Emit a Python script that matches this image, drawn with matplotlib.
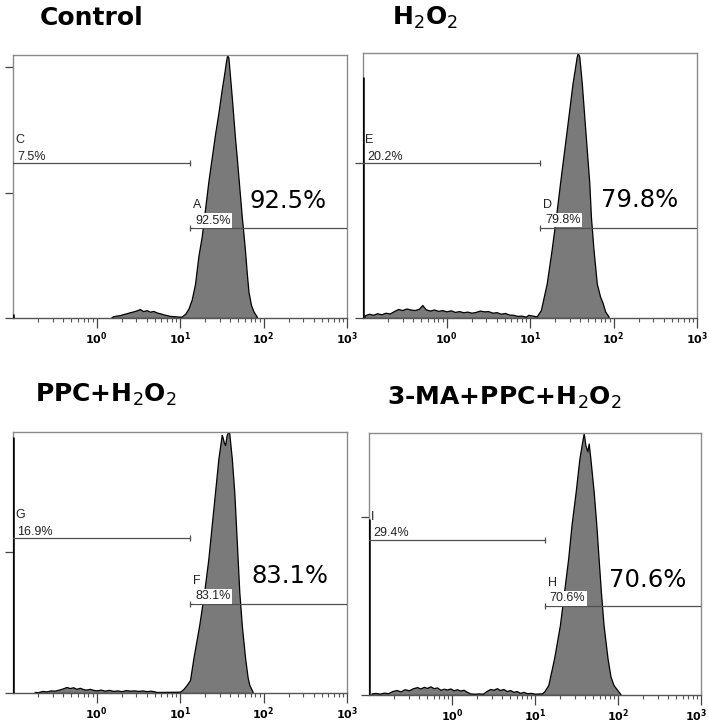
import numpy as np
import matplotlib
matplotlib.use('Agg')
import matplotlib.pyplot as plt
import matplotlib.transforms as mtransforms
from matplotlib.ticker import FixedLocator, LogLocator, NullFormatter

plt.rcParams['mathtext.fontset'] = 'custom'
plt.rcParams['mathtext.rm'] = 'DejaVu Sans'
plt.rcParams['mathtext.bf'] = 'DejaVu Sans:bold'
plt.rcParams['mathtext.it'] = 'DejaVu Sans:italic'

# ---------------- data ----------------
titles = ["Control", r"H$_2$O$_2$", r"PPC+H$_2$O$_2$", r"3-MA+PPC+H$_2$O$_2$"]
big_pct = ["92.5%", "79.8%", "83.1%", "70.6%"]
left_gate_letters = ["C", "E", "G", "I"]
left_gate_pct = ["7.5%", "20.2%", "16.9%", "29.4%"]
right_gate_letters = ["A", "D", "F", "H"]
right_gate_pct = ["92.5%", "79.8%", "83.1%", "70.6%"]
xtick_values = [1, 10, 100, 1000]
xtick_labels = [r"$\mathbf{10^{0}}$", r"$\mathbf{10^{1}}$", r"$\mathbf{10^{2}}$", r"$\mathbf{10^{3}}$"]
y_ticks = [[0, 47.5, 95.4], [0, 58.5], [0, 54], [0, 68]]

# gate boundary (log10 of fluorescence) and gate heights (% of axis height)
gate_split_log = [1.12, 1.12, 1.12, 1.116]
left_gate_y = [58.9, 58.5, 59.3, 59.2]
right_gate_y = [34.1, 34.0, 34.1, 34.0]

# events piled at the left edge of the scale
edge_spike = [1.5, 91, 98, 67]

# low-intensity (debris) part of each histogram: log10 channel, height
low_x_control = [0.18, 0.20, 0.24, 0.28, 0.32, 0.36, 0.40, 0.44, 0.48, 0.52, 0.56,
                 0.60, 0.64, 0.68, 0.72, 0.76, 0.80, 0.84, 0.88, 0.92, 0.96, 1.00]
low_h_control = [0.3, 0.7, 0.9, 1.1, 1.5, 1.8, 2.2, 2.5, 2.9, 3.4, 2.6,
                 3.0, 2.4, 2.7, 2.1, 1.8, 1.4, 1.1, 0.8, 0.7, 0.6, 0.5]

low_x_h2o2 = [-0.98, -0.93, -0.88, -0.83, -0.78, -0.73, -0.68, -0.63, -0.58, -0.53, -0.48,
              -0.43, -0.38, -0.33, -0.29, -0.25, -0.20, -0.15, -0.10, -0.05, 0.00, 0.05,
              0.10, 0.15, 0.20, 0.25, 0.30, 0.35, 0.40, 0.45, 0.50, 0.55, 0.60, 0.65,
              0.70, 0.75, 0.80, 0.85, 0.90, 0.95, 0.98]
low_h_h2o2 = [1.0, 1.6, 1.2, 1.8, 1.4, 2.0, 1.7, 2.6, 3.4, 3.0, 3.6,
              3.2, 3.0, 3.5, 4.9, 3.3, 2.8, 3.2, 2.7, 3.0, 2.5, 2.9,
              2.3, 2.6, 2.2, 2.4, 2.0, 2.3, 2.8, 2.5, 2.6, 2.0, 2.2, 1.6,
              1.9, 1.3, 1.2, 0.8, 0.9, 0.5, 1.2]

low_x_ppc = [-0.74, -0.70, -0.65, -0.60, -0.55, -0.50, -0.45, -0.40, -0.36, -0.32, -0.28,
             -0.24, -0.20, -0.16, -0.12, -0.08, -0.04, 0.00, 0.05, 0.10, 0.15, 0.20,
             0.25, 0.30, 0.35, 0.40, 0.45, 0.50, 0.55, 0.60, 0.65, 0.70, 0.72]
low_h_ppc = [0.4, 0.3, 0.8, 0.6, 1.0, 0.9, 1.3, 1.8, 2.3, 1.9, 2.2,
             1.6, 2.0, 1.5, 1.3, 1.6, 1.2, 1.0, 1.3, 0.9, 1.2, 0.8,
             1.0, 0.7, 1.1, 0.9, 1.0, 0.8, 1.0, 0.7, 0.9, 0.6, 0.4]

low_x_3ma = [-0.97, -0.92, -0.87, -0.82, -0.77, -0.72, -0.67, -0.62, -0.57, -0.52, -0.47,
             -0.42, -0.38, -0.34, -0.30, -0.26, -0.22, -0.18, -0.14, -0.10, -0.06, -0.02,
             0.02, 0.06, 0.10, 0.14, 0.18, 0.22, 0.27, 0.32, 0.37, 0.42, 0.46, 0.50,
             0.54, 0.58, 0.62, 0.66, 0.70, 0.74, 0.78, 0.82, 0.86, 0.90, 0.95, 1.00, 1.05]
low_h_3ma = [0.6, 0.8, 0.5, 0.9, 0.7, 1.5, 1.9, 1.4, 2.2, 1.8, 2.6,
             3.0, 2.5, 3.1, 2.7, 3.3, 2.6, 2.9, 2.0, 2.4, 2.1, 2.5,
             1.8, 2.2, 1.7, 2.0, 1.2, 0.6, 0.5, 0.6, 0.5, 1.6, 2.3, 2.0,
             2.6, 1.9, 2.3, 1.5, 1.9, 1.2, 1.5, 0.8, 1.2, 0.7, 0.8, 0.5, 0.6]

# main peak: log10 channel, height
peak_x_control = [1.02, 1.06, 1.10, 1.14, 1.18, 1.22, 1.26, 1.30, 1.34, 1.38, 1.42, 1.46,
                  1.50, 1.53, 1.55, 1.565, 1.58, 1.60, 1.62, 1.64, 1.66, 1.68, 1.70, 1.72,
                  1.74, 1.76, 1.78, 1.80, 1.82, 1.85, 1.88, 1.92]
peak_h_control = [0.6, 1.5, 3.5, 7, 13, 23.5, 31, 41.5, 52, 61, 70, 78,
                  87, 93, 97.5, 100, 99, 91.5, 84, 76, 68, 61, 53.5, 46,
                  38.5, 32, 25, 17, 10, 5, 2.5, 0.5]

peak_x_h2o2 = [1.08, 1.13, 1.20, 1.26, 1.31, 1.36, 1.41, 1.46, 1.51, 1.56, 1.572, 1.59,
               1.62, 1.65, 1.68, 1.71, 1.73, 1.76, 1.80, 1.84, 1.87, 1.90, 1.94]
peak_h_h2o2 = [0.6, 3, 13, 26, 38, 51, 63.5, 76, 88.7, 98.7, 100, 98.7,
               88.7, 76, 63.5, 51, 38, 26, 13, 8, 5.7, 2.5, 0.6]

peak_x_ppc = [1.00, 1.04, 1.08, 1.12, 1.16, 1.23, 1.29, 1.34, 1.38, 1.42, 1.46, 1.50,
              1.51, 1.525, 1.54, 1.56, 1.578, 1.59, 1.62, 1.65, 1.67, 1.69, 1.71, 1.74,
              1.78, 1.81, 1.83, 1.87]
peak_h_ppc = [0.5, 1.5, 3.1, 5, 13.3, 26, 38.8, 51.6, 64.4, 77.1, 89.9, 98.9,
              98, 96, 95, 99, 100, 99.5, 90, 77, 64.4, 51.6, 38.8, 26,
              13.3, 6, 3.1, 0.5]

peak_x_3ma = [1.08, 1.11, 1.16, 1.23, 1.30, 1.35, 1.40, 1.44, 1.49, 1.535, 1.565, 1.587,
              1.607, 1.63, 1.647, 1.667, 1.707, 1.739, 1.766, 1.794, 1.826, 1.874, 1.91,
              1.946, 2.006, 2.03]
peak_h_3ma = [0.6, 1.3, 3.8, 14, 26.7, 39.4, 52.2, 64.9, 77.6, 90.3, 96, 100,
              95.4, 93, 96, 90.3, 77.6, 64.9, 52.2, 39.4, 26.7, 14, 7,
              3.8, 1.3, 0.3]

low_x = [low_x_control, low_x_h2o2, low_x_ppc, low_x_3ma]
low_h = [low_h_control, low_h_h2o2, low_h_ppc, low_h_3ma]
peak_x = [peak_x_control, peak_x_h2o2, peak_x_ppc, peak_x_3ma]
peak_h = [peak_h_control, peak_h_h2o2, peak_h_ppc, peak_h_3ma]

# ---------------- layout ----------------
W, H = 709, 724
fig = plt.figure(figsize=(W / 100, H / 100), dpi=100)

# axes boxes in pixels: left, top, right, bottom
boxes = [(13, 55, 347, 318), (363, 53, 697, 318), (13, 432, 347, 693), (369, 433, 701, 695)]
title_pos = [(40, 25), (392, 25), (35, 402), (387, 405)]
big_pos = [(0.708, 0.445), (0.714, 0.446), (0.714, 0.448), (0.722, 0.439)]

fill_col = '#7a7a7a'
line_col = '#505050'
small_font = 'Liberation Sans'
px = 0.72  # points per pixel

for i in range(4):
    l, t, r, b = boxes[i]
    ax = fig.add_axes([l / W, 1 - b / H, (r - l) / W, (b - t) / H])
    ax.set_xscale('log')
    ax.set_xlim(0.1, 1000)
    ax.set_ylim(0, 100)

    xs = 10 ** np.array(low_x[i] + peak_x[i])
    hs = np.array(low_h[i] + peak_h[i])
    ax.fill_between(xs, hs, 0, facecolor=fill_col, edgecolor='black', linewidth=0.9, zorder=2)
    ax.vlines(10 ** -0.996, 0, edge_spike[i], color='black', linewidth=1.8, zorder=3)

    # gates
    gx = 10 ** gate_split_log[i]
    ax.plot([0.1, gx], [left_gate_y[i]] * 2, color=line_col, lw=0.9, zorder=4)
    ax.plot([gx], [left_gate_y[i]], marker='|', ms=4, color=line_col, mew=0.9, zorder=4)
    ax.plot([gx, 1000], [right_gate_y[i]] * 2, color=line_col, lw=0.9, zorder=4)
    ax.plot([gx], [right_gate_y[i]], marker='|', ms=4, color=line_col, mew=0.9, zorder=4)

    ax.annotate(left_gate_letters[i], xy=(0.1, left_gate_y[i]), xytext=(2 * px, 23 * px),
                textcoords='offset points', fontsize=9, color='#222222',
                family=small_font, va='center', ha='left', zorder=5)
    ax.annotate(left_gate_pct[i], xy=(0.1, left_gate_y[i]), xytext=(4 * px, 0.3),
                textcoords='offset points', fontsize=9, color='#222222',
                family=small_font, va='bottom', ha='left', zorder=5)
    ax.annotate(right_gate_letters[i], xy=(gx, right_gate_y[i]), xytext=(3 * px, 23 * px),
                textcoords='offset points', fontsize=9, color='#222222',
                family=small_font, va='center', ha='left', zorder=5)
    ax.annotate(right_gate_pct[i], xy=(gx, right_gate_y[i]), xytext=(5 * px, 1.2),
                textcoords='offset points', fontsize=9, color='#222222',
                family=small_font, va='bottom', ha='left', zorder=5,
                bbox=dict(boxstyle='square,pad=0.1', facecolor='white', edgecolor='none'))

    ax.text(big_pos[i][0], big_pos[i][1], big_pct[i], transform=ax.transAxes,
            fontsize=17.5, family='DejaVu Sans', va='center', ha='left', zorder=6)

    # ticks
    ax.xaxis.set_major_locator(FixedLocator(xtick_values))
    ax.set_xticklabels(xtick_labels)
    ax.xaxis.set_minor_locator(LogLocator(base=10, subs=np.arange(2, 10)))
    ax.xaxis.set_minor_formatter(NullFormatter())
    ax.tick_params(axis='x', which='major', direction='out', length=7, width=0.9,
                   color='#444444', labelsize=8, pad=2)
    ax.tick_params(axis='x', which='minor', direction='out', length=3, width=0.8,
                   color='#555555')
    ax.set_yticks(y_ticks[i])
    ax.tick_params(axis='y', which='major', direction='out', length=6, width=0.9,
                   color='#444444', labelleft=False)
    for s in ax.spines.values():
        s.set_color('#8a8a8a')
        s.set_linewidth(1.0)
    ax.spines['bottom'].set_color('#555555')

    if i == 3:
        # keep the last label inside the figure
        last = ax.get_xticklabels()[-1]
        last.set_horizontalalignment('right')
        last.set_transform(last.get_transform() +
                           mtransforms.ScaledTranslation(6 / 100, 0, fig.dpi_scale_trans))

    fig.text(title_pos[i][0] / W, 1 - title_pos[i][1] / H, titles[i], fontsize=18,
             fontweight='bold', family='DejaVu Sans', va='baseline', ha='left')

fig.savefig('out.png', dpi=100)
